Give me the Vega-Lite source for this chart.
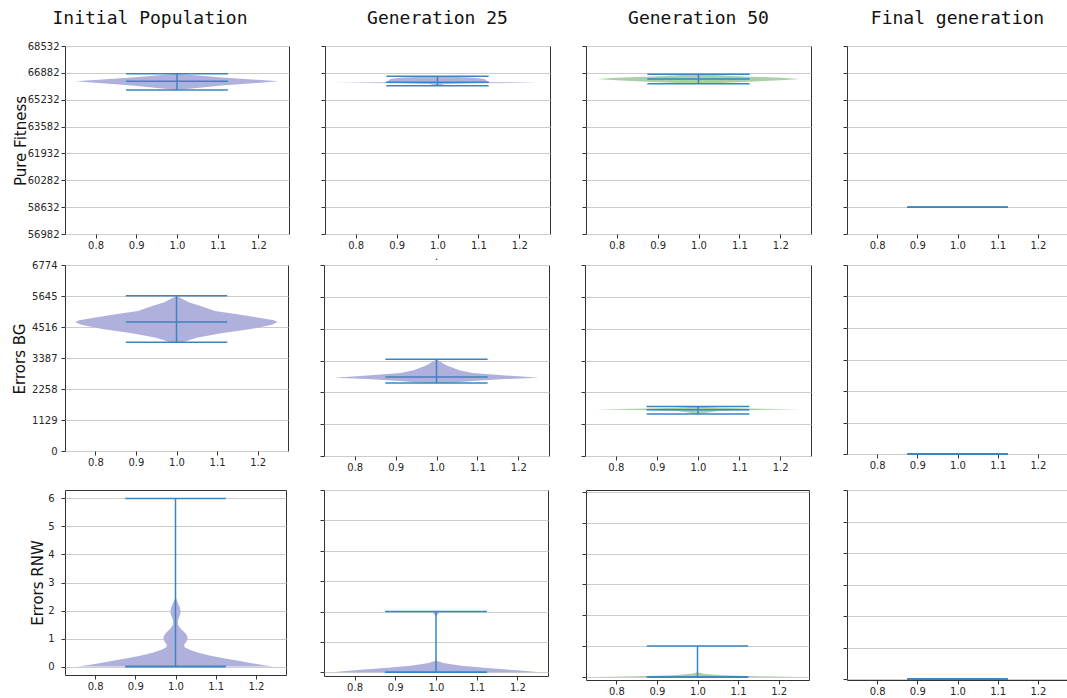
{
  "$schema": "https://vega.github.io/schema/vega-lite/v6.json",
  "background": "white",
  "padding": {"left": 0, "top": 9, "right": 0, "bottom": 0},
  "datasets": {
    "violins": [
      {"panel": "r1c1", "v": 65829, "lo": 1.0, "hi": 1.0},
      {"panel": "r1c1", "v": 66100, "lo": 0.89, "hi": 1.11},
      {"panel": "r1c1", "v": 66364, "lo": 0.75, "hi": 1.25},
      {"panel": "r1c1", "v": 66600, "lo": 0.89, "hi": 1.11},
      {"panel": "r1c1", "v": 66831, "lo": 1.0, "hi": 1.0},

      {"panel": "r1c2", "v": 66094, "lo": 1.0, "hi": 1.0},
      {"panel": "r1c2", "v": 66200, "lo": 0.98, "hi": 1.02},
      {"panel": "r1c2", "v": 66250, "lo": 0.9, "hi": 1.1},
      {"panel": "r1c2", "v": 66278, "lo": 0.75, "hi": 1.25},
      {"panel": "r1c2", "v": 66310, "lo": 0.87, "hi": 1.13},
      {"panel": "r1c2", "v": 66400, "lo": 0.88, "hi": 1.12},
      {"panel": "r1c2", "v": 66500, "lo": 0.885, "hi": 1.115},
      {"panel": "r1c2", "v": 66580, "lo": 0.91, "hi": 1.09},
      {"panel": "r1c2", "v": 66630, "lo": 0.95, "hi": 1.05},
      {"panel": "r1c2", "v": 66671, "lo": 1.0, "hi": 1.0},

      {"panel": "r1c3", "v": 66199, "lo": 1.0, "hi": 1.0},
      {"panel": "r1c3", "v": 66260, "lo": 0.95, "hi": 1.05},
      {"panel": "r1c3", "v": 66340, "lo": 0.875, "hi": 1.125},
      {"panel": "r1c3", "v": 66430, "lo": 0.8, "hi": 1.2},
      {"panel": "r1c3", "v": 66505, "lo": 0.75, "hi": 1.25},
      {"panel": "r1c3", "v": 66580, "lo": 0.8, "hi": 1.2},
      {"panel": "r1c3", "v": 66650, "lo": 0.875, "hi": 1.125},
      {"panel": "r1c3", "v": 66740, "lo": 0.95, "hi": 1.05},
      {"panel": "r1c3", "v": 66794, "lo": 1.0, "hi": 1.0},

      {"panel": "r2c1", "v": 3965, "lo": 0.985, "hi": 1.015},
      {"panel": "r2c1", "v": 4120, "lo": 0.95, "hi": 1.05},
      {"panel": "r2c1", "v": 4290, "lo": 0.89, "hi": 1.11},
      {"panel": "r2c1", "v": 4430, "lo": 0.82, "hi": 1.18},
      {"panel": "r2c1", "v": 4600, "lo": 0.765, "hi": 1.235},
      {"panel": "r2c1", "v": 4695, "lo": 0.75, "hi": 1.25},
      {"panel": "r2c1", "v": 4760, "lo": 0.76, "hi": 1.24},
      {"panel": "r2c1", "v": 4860, "lo": 0.8, "hi": 1.2},
      {"panel": "r2c1", "v": 4980, "lo": 0.85, "hi": 1.15},
      {"panel": "r2c1", "v": 5100, "lo": 0.905, "hi": 1.095},
      {"panel": "r2c1", "v": 5280, "lo": 0.94, "hi": 1.06},
      {"panel": "r2c1", "v": 5420, "lo": 0.97, "hi": 1.03},
      {"panel": "r2c1", "v": 5540, "lo": 0.985, "hi": 1.015},
      {"panel": "r2c1", "v": 5645, "lo": 1.0, "hi": 1.0},

      {"panel": "r2c2", "v": 2585, "lo": 1.0, "hi": 1.0},
      {"panel": "r2c2", "v": 2600, "lo": 0.96, "hi": 1.04},
      {"panel": "r2c2", "v": 2658, "lo": 0.912, "hi": 1.088},
      {"panel": "r2c2", "v": 2729, "lo": 0.831, "hi": 1.169},
      {"panel": "r2c2", "v": 2777, "lo": 0.75, "hi": 1.25},
      {"panel": "r2c2", "v": 2859, "lo": 0.831, "hi": 1.169},
      {"panel": "r2c2", "v": 2942, "lo": 0.912, "hi": 1.088},
      {"panel": "r2c2", "v": 3037, "lo": 0.944, "hi": 1.056},
      {"panel": "r2c2", "v": 3215, "lo": 0.976, "hi": 1.024},
      {"panel": "r2c2", "v": 3428, "lo": 1.0, "hi": 1.0},

      {"panel": "r2c3", "v": 1490, "lo": 1.0, "hi": 1.0},
      {"panel": "r2c3", "v": 1600, "lo": 0.95, "hi": 1.05},
      {"panel": "r2c3", "v": 1635, "lo": 0.85, "hi": 1.15},
      {"panel": "r2c3", "v": 1656, "lo": 0.75, "hi": 1.25},
      {"panel": "r2c3", "v": 1675, "lo": 0.85, "hi": 1.15},
      {"panel": "r2c3", "v": 1710, "lo": 0.95, "hi": 1.05},
      {"panel": "r2c3", "v": 1756, "lo": 1.0, "hi": 1.0},

      {"panel": "r3c1", "v": 0.0, "lo": 0.755, "hi": 1.245},
      {"panel": "r3c1", "v": 0.05, "lo": 0.78, "hi": 1.22},
      {"panel": "r3c1", "v": 0.12, "lo": 0.81, "hi": 1.19},
      {"panel": "r3c1", "v": 0.2, "lo": 0.84, "hi": 1.16},
      {"panel": "r3c1", "v": 0.3, "lo": 0.88, "hi": 1.12},
      {"panel": "r3c1", "v": 0.4, "lo": 0.915, "hi": 1.085},
      {"panel": "r3c1", "v": 0.5, "lo": 0.945, "hi": 1.055},
      {"panel": "r3c1", "v": 0.6, "lo": 0.965, "hi": 1.035},
      {"panel": "r3c1", "v": 0.7, "lo": 0.978, "hi": 1.022},
      {"panel": "r3c1", "v": 0.8, "lo": 0.978, "hi": 1.022},
      {"panel": "r3c1", "v": 0.9, "lo": 0.972, "hi": 1.028},
      {"panel": "r3c1", "v": 1.0, "lo": 0.97, "hi": 1.03},
      {"panel": "r3c1", "v": 1.1, "lo": 0.971, "hi": 1.029},
      {"panel": "r3c1", "v": 1.2, "lo": 0.976, "hi": 1.024},
      {"panel": "r3c1", "v": 1.35, "lo": 0.987, "hi": 1.013},
      {"panel": "r3c1", "v": 1.5, "lo": 0.994, "hi": 1.006},
      {"panel": "r3c1", "v": 1.65, "lo": 0.994, "hi": 1.006},
      {"panel": "r3c1", "v": 1.8, "lo": 0.99, "hi": 1.01},
      {"panel": "r3c1", "v": 1.95, "lo": 0.987, "hi": 1.013},
      {"panel": "r3c1", "v": 2.1, "lo": 0.989, "hi": 1.011},
      {"panel": "r3c1", "v": 2.3, "lo": 0.995, "hi": 1.005},
      {"panel": "r3c1", "v": 2.5, "lo": 1.0, "hi": 1.0},

      {"panel": "r3c2", "v": 0.0, "lo": 0.75, "hi": 1.25},
      {"panel": "r3c2", "v": 0.01, "lo": 0.752, "hi": 1.248},
      {"panel": "r3c2", "v": 0.066, "lo": 0.8, "hi": 1.2},
      {"panel": "r3c2", "v": 0.14, "lo": 0.873, "hi": 1.127},
      {"panel": "r3c2", "v": 0.22, "lo": 0.938, "hi": 1.062},
      {"panel": "r3c2", "v": 0.31, "lo": 0.982, "hi": 1.018},
      {"panel": "r3c2", "v": 0.39, "lo": 1.0, "hi": 1.0},
      {"panel": "r3c2", "v": 1.85, "lo": 1.0, "hi": 1.0},
      {"panel": "r3c2", "v": 1.93, "lo": 0.994, "hi": 1.006},
      {"panel": "r3c2", "v": 2.0, "lo": 0.991, "hi": 1.009},

      {"panel": "r3c3", "v": 0.0, "lo": 0.75, "hi": 1.25},
      {"panel": "r3c3", "v": 0.02, "lo": 0.85, "hi": 1.15},
      {"panel": "r3c3", "v": 0.05, "lo": 0.94, "hi": 1.06},
      {"panel": "r3c3", "v": 0.1, "lo": 0.985, "hi": 1.015},
      {"panel": "r3c3", "v": 0.15, "lo": 1.0, "hi": 1.0}
    ],
    "stats": [
      {"panel": "r1c1", "min": 65829, "median": 66364, "max": 66831},
      {"panel": "r1c2", "min": 66094, "median": 66303, "max": 66671},
      {"panel": "r1c3", "min": 66216, "median": 66505, "max": 66794},
      {"panel": "r1c4", "min": 58632, "median": 58632, "max": 58632},
      {"panel": "r2c1", "min": 3965, "median": 4695, "max": 5650},
      {"panel": "r2c2", "min": 2585, "median": 2799, "max": 3428},
      {"panel": "r2c3", "min": 1490, "median": 1642, "max": 1756},
      {"panel": "r2c4", "min": 0, "median": 0, "max": 0},
      {"panel": "r3c1", "min": 0, "median": 0, "max": 6},
      {"panel": "r3c2", "min": 0, "median": 0, "max": 2},
      {"panel": "r3c3", "min": 0, "median": 0, "max": 1},
      {"panel": "r3c4", "min": 0, "median": 0, "max": 0}
    ]
  },
  "spacing": 0,
  "vconcat": [
    {
      "bounds": "flush",
      "spacing": 36,
      "hconcat": [
        {
          "width": 224, "height": 188,
          "title": {"text": "Initial Population", "frame": "group", "dx": -27, "dy": 5},
          "layer": [
            {
              "data": {"name": "violins"},
              "transform": [{"filter": "datum.panel == 'r1c1'"}],
              "mark": {"type": "area", "orient": "horizontal", "color": "#b0b0dc"},
              "encoding": {
                "y": {"field": "v", "type": "quantitative", "scale": {"domain": [56982, 68532], "zero": false, "nice": false},
                      "axis": {"values": [56982, 58632, 60282, 61932, 63582, 65232, 66882, 68532], "tickCount": 12, "format": "d", "title": "Pure Fitness", "titleX": -39.7, "titleY": 94.5, "minExtent": 64, "maxExtent": 64}},
                "x": {"field": "lo", "type": "quantitative", "scale": {"domain": [0.725, 1.275], "nice": false},
                      "axis": {"values": [0.8, 0.9, 1.0, 1.1, 1.2], "format": ".1f", "title": null}},
                "x2": {"field": "hi"}
              }
            },
            {
              "data": {"name": "stats"},
              "transform": [{"filter": "datum.panel == 'r1c1'"}],
              "mark": {"type": "rule", "color": "#3a85c1", "strokeWidth": 1.5},
              "encoding": {"x": {"datum": 1, "type": "quantitative"}, "y": {"field": "min", "type": "quantitative"}, "y2": {"field": "max"}}
            },
            {
              "data": {"name": "stats"},
              "transform": [{"filter": "datum.panel == 'r1c1'"}, {"fold": ["min", "median", "max"], "as": ["stat", "val"]}],
              "mark": {"type": "rule", "color": "#3a85c1", "strokeWidth": 1.5},
              "encoding": {"x": {"datum": 0.875, "type": "quantitative"}, "x2": {"datum": 1.125}, "y": {"field": "val", "type": "quantitative"}}
            }
          ]
        },
        {
          "width": 225, "height": 188,
          "title": {"text": "Generation 25", "frame": "group"},
          "layer": [
            {
              "data": {"name": "violins"},
              "transform": [{"filter": "datum.panel == 'r1c2'"}],
              "mark": {"type": "area", "orient": "horizontal", "color": "#b0b0dc"},
              "encoding": {
                "y": {"field": "v", "type": "quantitative", "scale": {"domain": [56982, 68532], "zero": false, "nice": false},
                      "axis": {"values": [56982, 58632, 60282, 61932, 63582, 65232, 66882, 68532], "tickCount": 12, "labels": false, "title": null}},
                "x": {"field": "lo", "type": "quantitative", "scale": {"domain": [0.725, 1.275], "nice": false},
                      "axis": {"values": [0.8, 0.9, 1.0, 1.1, 1.2], "format": ".1f", "title": null}},
                "x2": {"field": "hi"}
              }
            },
            {
              "data": {"name": "stats"},
              "transform": [{"filter": "datum.panel == 'r1c2'"}],
              "mark": {"type": "rule", "color": "#3a85c1", "strokeWidth": 1.5},
              "encoding": {"x": {"datum": 1, "type": "quantitative"}, "y": {"field": "min", "type": "quantitative"}, "y2": {"field": "max"}}
            },
            {
              "data": {"name": "stats"},
              "transform": [{"filter": "datum.panel == 'r1c2'"}, {"fold": ["min", "median", "max"], "as": ["stat", "val"]}],
              "mark": {"type": "rule", "color": "#3a85c1", "strokeWidth": 1.5},
              "encoding": {"x": {"datum": 0.875, "type": "quantitative"}, "x2": {"datum": 1.125}, "y": {"field": "val", "type": "quantitative"}}
            }
          ]
        },
        {
          "width": 225, "height": 188,
          "title": {"text": "Generation 50", "frame": "group"},
          "layer": [
            {
              "data": {"name": "violins"},
              "transform": [{"filter": "datum.panel == 'r1c3'"}],
              "mark": {"type": "area", "orient": "horizontal", "color": "#abcfa6"},
              "encoding": {
                "y": {"field": "v", "type": "quantitative", "scale": {"domain": [56982, 68532], "zero": false, "nice": false},
                      "axis": {"values": [56982, 58632, 60282, 61932, 63582, 65232, 66882, 68532], "tickCount": 12, "labels": false, "title": null}},
                "x": {"field": "lo", "type": "quantitative", "scale": {"domain": [0.725, 1.275], "nice": false},
                      "axis": {"values": [0.8, 0.9, 1.0, 1.1, 1.2], "format": ".1f", "title": null}},
                "x2": {"field": "hi"}
              }
            },
            {
              "data": {"name": "stats"},
              "transform": [{"filter": "datum.panel == 'r1c3'"}],
              "mark": {"type": "rule", "color": "#3a85c1", "strokeWidth": 1.5},
              "encoding": {"x": {"datum": 1, "type": "quantitative"}, "y": {"field": "min", "type": "quantitative"}, "y2": {"field": "max"}}
            },
            {
              "data": {"name": "stats"},
              "transform": [{"filter": "datum.panel == 'r1c3'"}, {"fold": ["min", "median", "max"], "as": ["stat", "val"]}],
              "mark": {"type": "rule", "color": "#3a85c1", "strokeWidth": 1.5},
              "encoding": {"x": {"datum": 0.875, "type": "quantitative"}, "x2": {"datum": 1.125}, "y": {"field": "val", "type": "quantitative"}}
            }
          ]
        },
        {
          "width": 221, "height": 188,
          "title": {"text": "Final generation", "frame": "group"},
          "layer": [
            {
              "data": {"name": "stats"},
              "transform": [{"filter": "datum.panel == 'r1c4'"}],
              "mark": {"type": "rule", "color": "#3a85c1", "strokeWidth": 1.5},
              "encoding": {
                "x": {"datum": 1, "type": "quantitative", "scale": {"domain": [0.725, 1.275], "nice": false},
                      "axis": {"values": [0.8, 0.9, 1.0, 1.1, 1.2], "format": ".1f", "title": null}},
                "y": {"field": "min", "type": "quantitative", "scale": {"domain": [56982, 68532], "zero": false, "nice": false},
                      "axis": {"values": [56982, 58632, 60282, 61932, 63582, 65232, 66882, 68532], "tickCount": 12, "labels": false, "title": null}},
                "y2": {"field": "max"}
              }
            },
            {
              "data": {"name": "stats"},
              "transform": [{"filter": "datum.panel == 'r1c4'"}, {"fold": ["min", "median", "max"], "as": ["stat", "val"]}],
              "mark": {"type": "rule", "color": "#3a85c1", "strokeWidth": 1.5},
              "encoding": {"x": {"datum": 0.875, "type": "quantitative"}, "x2": {"datum": 1.125}, "y": {"field": "val", "type": "quantitative"}}
            }
          ]
        }
      ]
    },
    {
      "spacing": 16,
      "vconcat": [
        {
          "bounds": "flush",
          "spacing": 36,
          "hconcat": [
            {
              "width": 223, "height": 186,
              "layer": [
                {
                  "data": {"name": "violins"},
                  "transform": [{"filter": "datum.panel == 'r2c1'"}],
                  "mark": {"type": "area", "orient": "horizontal", "color": "#b0b0dc"},
                  "encoding": {
                    "y": {"field": "v", "type": "quantitative", "scale": {"domain": [0, 6774], "zero": false, "nice": false},
                          "axis": {"values": [0, 1129, 2258, 3387, 4516, 5645, 6774], "tickCount": 12, "format": "d", "labelPadding": 4, "title": "Errors BG", "titleX": -40.7, "titleY": 93.5, "minExtent": 64, "maxExtent": 64}},
                    "x": {"field": "lo", "type": "quantitative", "scale": {"domain": [0.725, 1.275], "nice": false},
                          "axis": {"values": [0.8, 0.9, 1.0, 1.1, 1.2], "format": ".1f", "title": null}},
                    "x2": {"field": "hi"}
                  }
                },
                {
                  "data": {"name": "stats"},
                  "transform": [{"filter": "datum.panel == 'r2c1'"}],
                  "mark": {"type": "rule", "color": "#3a85c1", "strokeWidth": 1.5},
                  "encoding": {"x": {"datum": 1, "type": "quantitative"}, "y": {"field": "min", "type": "quantitative"}, "y2": {"field": "max"}}
                },
                {
                  "data": {"name": "stats"},
                  "transform": [{"filter": "datum.panel == 'r2c1'"}, {"fold": ["min", "median", "max"], "as": ["stat", "val"]}],
                  "mark": {"type": "rule", "color": "#3a85c1", "strokeWidth": 1.5},
                  "encoding": {"x": {"datum": 0.875, "type": "quantitative"}, "x2": {"datum": 1.125}, "y": {"field": "val", "type": "quantitative"}}
                }
              ]
            },
            {
              "width": 225, "height": 191,
              "title": {"text": ".", "font": "DejaVu Sans", "fontSize": 10, "offset": 3},
              "layer": [
                {
                  "data": {"name": "violins"},
                  "transform": [{"filter": "datum.panel == 'r2c2'"}],
                  "mark": {"type": "area", "orient": "horizontal", "color": "#b0b0dc"},
                  "encoding": {
                    "y": {"field": "v", "type": "quantitative", "scale": {"domain": [0, 6774], "zero": false, "nice": false},
                          "axis": {"values": [0, 1129, 2258, 3387, 4516, 5645, 6774], "tickCount": 12, "labels": false, "title": null}},
                    "x": {"field": "lo", "type": "quantitative", "scale": {"domain": [0.725, 1.275], "nice": false},
                          "axis": {"values": [0.8, 0.9, 1.0, 1.1, 1.2], "format": ".1f", "title": null}},
                    "x2": {"field": "hi"}
                  }
                },
                {
                  "data": {"name": "stats"},
                  "transform": [{"filter": "datum.panel == 'r2c2'"}],
                  "mark": {"type": "rule", "color": "#3a85c1", "strokeWidth": 1.5},
                  "encoding": {"x": {"datum": 1, "type": "quantitative"}, "y": {"field": "min", "type": "quantitative"}, "y2": {"field": "max"}}
                },
                {
                  "data": {"name": "stats"},
                  "transform": [{"filter": "datum.panel == 'r2c2'"}, {"fold": ["min", "median", "max"], "as": ["stat", "val"]}],
                  "mark": {"type": "rule", "color": "#3a85c1", "strokeWidth": 1.5},
                  "encoding": {"x": {"datum": 0.875, "type": "quantitative"}, "x2": {"datum": 1.125}, "y": {"field": "val", "type": "quantitative"}}
                }
              ]
            },
            {
              "width": 226, "height": 191,
              "layer": [
                {
                  "data": {"name": "violins"},
                  "transform": [{"filter": "datum.panel == 'r2c3'"}],
                  "mark": {"type": "area", "orient": "horizontal", "color": "#abcfa6"},
                  "encoding": {
                    "y": {"field": "v", "type": "quantitative", "scale": {"domain": [0, 6774], "zero": false, "nice": false},
                          "axis": {"values": [0, 1129, 2258, 3387, 4516, 5645, 6774], "tickCount": 12, "labels": false, "title": null}},
                    "x": {"field": "lo", "type": "quantitative", "scale": {"domain": [0.725, 1.275], "nice": false},
                          "axis": {"values": [0.8, 0.9, 1.0, 1.1, 1.2], "format": ".1f", "title": null}},
                    "x2": {"field": "hi"}
                  }
                },
                {
                  "data": {"name": "stats"},
                  "transform": [{"filter": "datum.panel == 'r2c3'"}],
                  "mark": {"type": "rule", "color": "#3a85c1", "strokeWidth": 1.5},
                  "encoding": {"x": {"datum": 1, "type": "quantitative"}, "y": {"field": "min", "type": "quantitative"}, "y2": {"field": "max"}}
                },
                {
                  "data": {"name": "stats"},
                  "transform": [{"filter": "datum.panel == 'r2c3'"}, {"fold": ["min", "median", "max"], "as": ["stat", "val"]}],
                  "mark": {"type": "rule", "color": "#3a85c1", "strokeWidth": 1.5},
                  "encoding": {"x": {"datum": 0.875, "type": "quantitative"}, "x2": {"datum": 1.125}, "y": {"field": "val", "type": "quantitative"}}
                }
              ]
            },
            {
              "width": 221, "height": 189,
              "layer": [
                {
                  "data": {"name": "stats"},
                  "transform": [{"filter": "datum.panel == 'r2c4'"}],
                  "mark": {"type": "rule", "color": "#3a85c1", "strokeWidth": 1.5},
                  "encoding": {
                    "x": {"datum": 1, "type": "quantitative", "scale": {"domain": [0.725, 1.275], "nice": false},
                          "axis": {"values": [0.8, 0.9, 1.0, 1.1, 1.2], "format": ".1f", "title": null}},
                    "y": {"field": "min", "type": "quantitative", "scale": {"domain": [0, 6774], "zero": false, "nice": false},
                          "axis": {"values": [0, 1129, 2258, 3387, 4516, 5645, 6774], "tickCount": 12, "labels": false, "title": null}},
                    "y2": {"field": "max"}
                  }
                },
                {
                  "data": {"name": "stats"},
                  "transform": [{"filter": "datum.panel == 'r2c4'"}, {"fold": ["min", "median", "max"], "as": ["stat", "val"]}],
                  "mark": {"type": "rule", "color": "#3a85c1", "strokeWidth": 1.5},
                  "encoding": {"x": {"datum": 0.875, "type": "quantitative"}, "x2": {"datum": 1.125}, "y": {"field": "val", "type": "quantitative"}}
                }
              ]
            }
          ]
        },
        {
          "bounds": "flush",
          "spacing": 38,
          "hconcat": [
            {
              "width": 221, "height": 185,
              "layer": [
                {
                  "data": {"name": "violins"},
                  "transform": [{"filter": "datum.panel == 'r3c1'"}],
                  "mark": {"type": "area", "orient": "horizontal", "color": "#b0b0dc"},
                  "encoding": {
                    "y": {"field": "v", "type": "quantitative", "scale": {"domain": [-0.3, 6.3], "zero": false, "nice": false},
                          "axis": {"values": [0, 1, 2, 3, 4, 5, 6], "tickCount": 12, "format": "d", "labelPadding": 7, "title": "Errors RNW", "titleX": -22.3, "titleY": 92.5, "minExtent": 64, "maxExtent": 64}},
                    "x": {"field": "lo", "type": "quantitative", "scale": {"domain": [0.725, 1.275], "nice": false},
                          "axis": {"values": [0.8, 0.9, 1.0, 1.1, 1.2], "format": ".1f", "title": null}},
                    "x2": {"field": "hi"}
                  }
                },
                {
                  "data": {"name": "stats"},
                  "transform": [{"filter": "datum.panel == 'r3c1'"}],
                  "mark": {"type": "rule", "color": "#3a85c1", "strokeWidth": 1.5},
                  "encoding": {"x": {"datum": 1, "type": "quantitative"}, "y": {"field": "min", "type": "quantitative"}, "y2": {"field": "max"}}
                },
                {
                  "data": {"name": "stats"},
                  "transform": [{"filter": "datum.panel == 'r3c1'"}, {"fold": ["min", "median", "max"], "as": ["stat", "val"]}],
                  "mark": {"type": "rule", "color": "#3a85c1", "strokeWidth": 1.5},
                  "encoding": {"x": {"datum": 0.875, "type": "quantitative"}, "x2": {"datum": 1.125}, "y": {"field": "val", "type": "quantitative"}}
                }
              ]
            },
            {
              "width": 224, "height": 186,
              "layer": [
                {
                  "data": {"name": "violins"},
                  "transform": [{"filter": "datum.panel == 'r3c2'"}],
                  "mark": {"type": "area", "orient": "horizontal", "color": "#b0b0dc"},
                  "encoding": {
                    "y": {"field": "v", "type": "quantitative", "scale": {"domain": [-0.12, 6.0], "zero": false, "nice": false},
                          "axis": {"values": [0, 1, 2, 3, 4, 5, 6], "tickCount": 12, "labels": false, "title": null}},
                    "x": {"field": "lo", "type": "quantitative", "scale": {"domain": [0.725, 1.275], "nice": false},
                          "axis": {"values": [0.8, 0.9, 1.0, 1.1, 1.2], "format": ".1f", "title": null}},
                    "x2": {"field": "hi"}
                  }
                },
                {
                  "data": {"name": "stats"},
                  "transform": [{"filter": "datum.panel == 'r3c2'"}],
                  "mark": {"type": "rule", "color": "#3a85c1", "strokeWidth": 1.5},
                  "encoding": {"x": {"datum": 1, "type": "quantitative"}, "y": {"field": "min", "type": "quantitative"}, "y2": {"field": "max"}}
                },
                {
                  "data": {"name": "stats"},
                  "transform": [{"filter": "datum.panel == 'r3c2'"}, {"fold": ["min", "median", "max"], "as": ["stat", "val"]}],
                  "mark": {"type": "rule", "color": "#3a85c1", "strokeWidth": 1.5},
                  "encoding": {"x": {"datum": 0.875, "type": "quantitative"}, "x2": {"datum": 1.125}, "y": {"field": "val", "type": "quantitative"}}
                }
              ]
            },
            {
              "width": 223, "height": 190,
              "layer": [
                {
                  "data": {"name": "violins"},
                  "transform": [{"filter": "datum.panel == 'r3c3'"}],
                  "mark": {"type": "area", "orient": "horizontal", "color": "#abcfa6"},
                  "encoding": {
                    "y": {"field": "v", "type": "quantitative", "scale": {"domain": [-0.1, 6.06], "zero": false, "nice": false},
                          "axis": {"values": [0, 1, 2, 3, 4, 5, 6], "tickCount": 12, "labels": false, "title": null}},
                    "x": {"field": "lo", "type": "quantitative", "scale": {"domain": [0.725, 1.275], "nice": false},
                          "axis": {"values": [0.8, 0.9, 1.0, 1.1, 1.2], "format": ".1f", "title": null}},
                    "x2": {"field": "hi"}
                  }
                },
                {
                  "data": {"name": "stats"},
                  "transform": [{"filter": "datum.panel == 'r3c3'"}],
                  "mark": {"type": "rule", "color": "#3a85c1", "strokeWidth": 1.5},
                  "encoding": {"x": {"datum": 1, "type": "quantitative"}, "y": {"field": "min", "type": "quantitative"}, "y2": {"field": "max"}}
                },
                {
                  "data": {"name": "stats"},
                  "transform": [{"filter": "datum.panel == 'r3c3'"}, {"fold": ["min", "median", "max"], "as": ["stat", "val"]}],
                  "mark": {"type": "rule", "color": "#3a85c1", "strokeWidth": 1.5},
                  "encoding": {"x": {"datum": 0.875, "type": "quantitative"}, "x2": {"datum": 1.125}, "y": {"field": "val", "type": "quantitative"}}
                }
              ]
            },
            {
              "width": 221, "height": 190,
              "layer": [
                {
                  "data": {"name": "stats"},
                  "transform": [{"filter": "datum.panel == 'r3c4'"}],
                  "mark": {"type": "rule", "color": "#3a85c1", "strokeWidth": 1.5},
                  "encoding": {
                    "x": {"datum": 1, "type": "quantitative", "scale": {"domain": [0.725, 1.275], "nice": false},
                          "axis": {"values": [0.8, 0.9, 1.0, 1.1, 1.2], "format": ".1f", "title": null}},
                    "y": {"field": "min", "type": "quantitative", "scale": {"domain": [-0.03, 6], "zero": false, "nice": false},
                          "axis": {"values": [0, 1, 2, 3, 4, 5, 6], "tickCount": 12, "labels": false, "title": null}},
                    "y2": {"field": "max"}
                  }
                },
                {
                  "data": {"name": "stats"},
                  "transform": [{"filter": "datum.panel == 'r3c4'"}, {"fold": ["min", "median", "max"], "as": ["stat", "val"]}],
                  "mark": {"type": "rule", "color": "#3a85c1", "strokeWidth": 1.5},
                  "encoding": {"x": {"datum": 0.875, "type": "quantitative"}, "x2": {"datum": 1.125}, "y": {"field": "val", "type": "quantitative"}}
                }
              ]
            }
          ]
        }
      ]
    }
  ],
  "config": {
    "view": {"stroke": "#333333", "strokeWidth": 1},
    "axis": {
      "domain": false,
      "labelFont": "DejaVu Sans", "labelFontSize": 10, "labelColor": "#262626",
      "tickColor": "#333333", "tickSize": 4, "labelPadding": 2,
      "gridColor": "#cccccc", "gridWidth": 1,
      "titleFont": "DejaVu Sans", "titleFontSize": 15, "titleFontWeight": "normal", "titleColor": "#111111",
      "titleBaseline": "alphabetic"
    },
    "axisX": {"grid": false},
    "axisY": {"grid": true},
    "title": {"font": "DejaVu Sans Mono", "fontSize": 18, "fontWeight": "normal", "color": "#111111", "baseline": "alphabetic", "offset": 18, "anchor": "middle"}
  }
}
